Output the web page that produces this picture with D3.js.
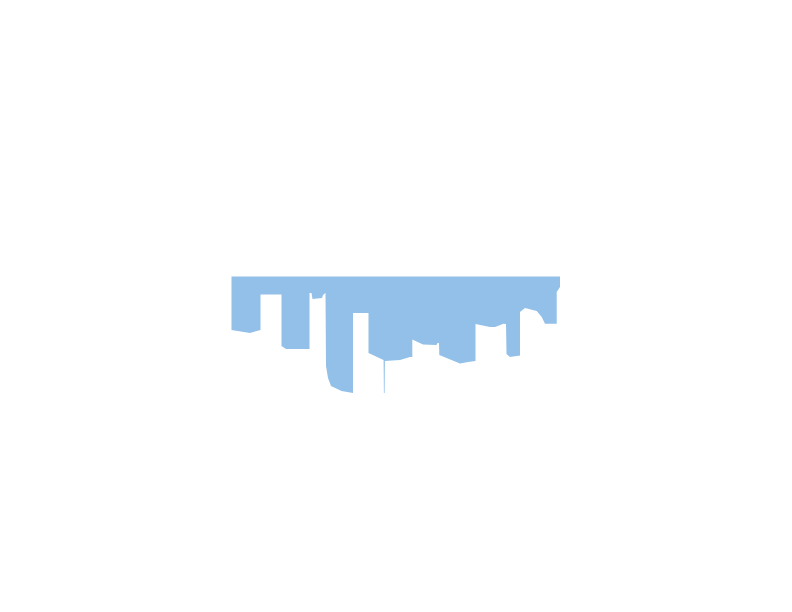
<!DOCTYPE html>
<html>
<head>
<meta charset="utf-8">
<script src="https://cdn.jsdelivr.net/npm/d3@7"></script>
<style>
  body { margin: 0; background: #fff; }
</style>
</head>
<body>
<script>
// position along the series
var steps = [0, 18.5, 29, 29, 50, 50, 54.5, 78, 78, 80, 81, 90.5, 91.5, 94, 94.5, 96.5, 99.5, 110, 121.5, 121.5,
  137, 137, 152, 152.1, 152.4, 153.1, 153.4, 168.5, 178.5, 180.8, 180.8, 191.5, 205, 206, 207.5, 207.8,
  228.5, 236.5, 244, 244, 258.5, 263.5, 272, 274.5, 275, 278.5, 288.5, 288.5, 293.5, 305.2, 310.2, 313.5,
  325.2, 325.2, 326.5, 328.5];
// values (all below zero)
var values = [-53.5, -56.5, -53.5, -18, -18, -69.5, -72.5, -72.5, -16.5, -16.5, -22.5, -21.5, -18.5, -16.5, -89.5, -101.5, -109.5, -114.5, -116.5, -36.5,
  -36.5, -76.5, -83.5, -84, -116.5, -116.5, -84.5, -83.5, -80.5, -80.5, -63, -68, -68.5, -66.5, -66.5, -78.5,
  -87, -85.5, -84.5, -47.5, -50.5, -50.5, -47.2, -47.5, -77.5, -80.5, -79, -35.5, -31.5, -34.5, -40.5, -47.2,
  -47.2, -15.5, -13.5, -10.5];

var data = steps.map(function(s, i){ return {s: s, v: values[i]}; });

var svg = d3.select('body').append('svg')
    .attr('width', 792)
    .attr('height', 612);

var x = d3.scaleLinear().domain([0, 328.5]).range([231.5, 560]);
var y = d3.scaleLinear().domain([0, -120]).range([276.5, 396.5]);

var area = d3.area()
    .x(function(d){ return x(d.s); })
    .y0(y(0))
    .y1(function(d){ return y(d.v); });

svg.append('path')
    .datum(data)
    .attr('d', area)
    .attr('fill', '#92c0e8');
</script>
</body>
</html>
